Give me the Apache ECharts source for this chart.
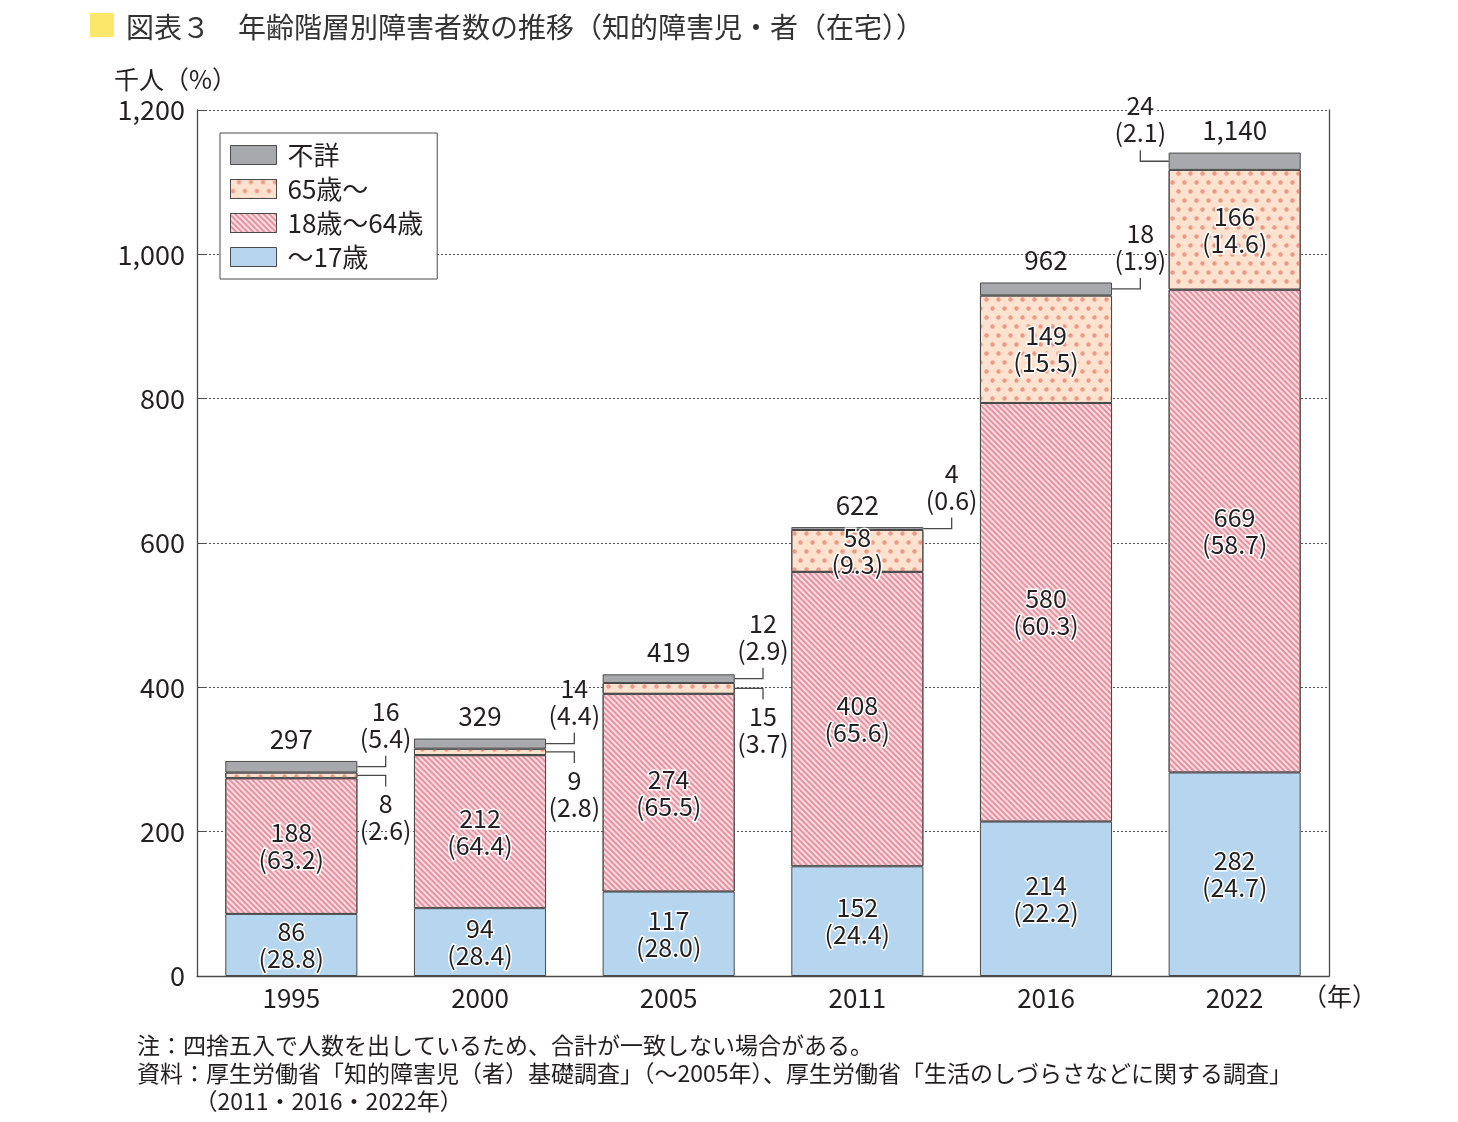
<!DOCTYPE html>
<html>
<head>
<meta charset="utf-8">
<script src="https://cdn.jsdelivr.net/npm/echarts@6/dist/echarts.min.js"></script>
<style>
  html, body { margin: 0; padding: 0; background: #fff; }
  #chart { width: 1458px; height: 1122px; }
</style>
</head>
<body>
<div id="chart"></div>
<script>
    // values (thousand persons, % share)
    var years = ['1995', '2000', '2005', '2011', '2016', '2022'];
    var age0to17 = [86, 94, 117, 152, 214, 282];
    var pct0to17 = ['28.8', '28.4', '28.0', '24.4', '22.2', '24.7'];
    var age18to64 = [188, 212, 274, 408, 580, 669];
    var pct18to64 = ['63.2', '64.4', '65.5', '65.6', '60.3', '58.7'];
    var age65plus = [8, 9, 15, 58, 149, 166];
    var pct65plus = ['2.6', '2.8', '3.7', '9.3', '15.5', '14.6'];
    var unknown = [16, 14, 12, 4, 18, 24];
    var pctUnknown = ['5.4', '4.4', '2.9', '0.6', '1.9', '2.1'];
    var totals = [297, 329, 419, 622, 962, 1140];

    var FONT = '"Noto Sans CJK JP", "Noto Sans", sans-serif';
    var TXT = '#231f20';
    var EDGE = '#4a4a4a';
    var BAR_RATIO = 0.7;

    var chart = echarts.init(document.getElementById('chart'), null, {renderer: 'canvas'});

    function inLabel(pcts) {
        return {
            show: true,
            position: 'inside',
            color: TXT,
            fontSize: 25,
            fontFamily: FONT,
            lineHeight: 27,
            textBorderColor: '#fff',
            textBorderWidth: 3,
            formatter: function (p) { return p.value + '\n(' + pcts[p.dataIndex] + ')'; }
        };
    }

    // callout items: [category, y of leader, value text, pct text, side, dir]
    var callouts = [];
    for (var i = 0; i < years.length; i++) {
        var base = age0to17[i] + age18to64[i];
        if (age65plus[i] < 50) {
            callouts.push([i, base + age65plus[i] / 2, String(age65plus[i]), '(' + pct65plus[i] + ')', 1, 1]);
        }
        var side = (i === years.length - 1) ? -1 : 1;
        callouts.push([i, base + age65plus[i] + unknown[i] / 2, String(unknown[i]), '(' + pctUnknown[i] + ')', side, -1]);
    }

    function renderCallout(params, api) {
        var c = api.coord([api.value(0), api.value(1)]);
        var bw = api.size([1, 0])[0];
        var side = api.value(4), dir = api.value(5);
        var x0 = c[0] + side * bw * BAR_RATIO / 2;
        var x1 = c[0] + side * bw / 2;
        var y0 = c[1];
        var y1 = y0 + dir * 11;
        var txt = callouts[params.dataIndex][2] + '\n' + callouts[params.dataIndex][3];
        return {
            type: 'group',
            children: [{
                type: 'polyline',
                shape: {points: [[x0, y0], [x1, y0], [x1, y1]]},
                style: {stroke: EDGE, lineWidth: 1.3, fill: null}
            }, {
                type: 'text',
                x: x1,
                y: dir < 0 ? y1 - 4 : y1 + 4,
                style: {
                    text: txt,
                    fill: TXT,
                    fontSize: 25,
                    fontFamily: FONT,
                    lineHeight: 27,
                    align: 'center',
                    verticalAlign: dir < 0 ? 'bottom' : 'top',
                    stroke: '#fff',
                    lineWidth: 3
                }
            }]
        };
    }

    var option = {
        animation: false,
        backgroundColor: '#fff',
        title: {
            text: '図表３　年齢階層別障害者数の推移（知的障害児・者（在宅））',
            left: 121,
            top: 8,
            textStyle: {fontSize: 28, fontWeight: 'normal', color: '#333', fontFamily: FONT}
        },
        legend: {
            orient: 'vertical',
            left: 220,
            top: 133,
            data: ['不詳', '65歳～', '18歳～64歳', '～17歳'],
            icon: 'rect',
            itemWidth: 46,
            itemHeight: 19,
            itemGap: 8,
            padding: [9, 14, 9, 10],
            backgroundColor: '#fff',
            borderColor: EDGE,
            borderWidth: 1,
            itemStyle: {borderColor: EDGE, borderWidth: 1},
            textStyle: {fontSize: 26, lineHeight: 26, color: TXT, fontFamily: FONT, padding: [0, 0, 0, 6]}
        },
        grid: {left: 197, right: 129, top: 110, bottom: 146},
        xAxis: {
            type: 'category',
            data: years,
            axisLine: {lineStyle: {color: EDGE, width: 1.3}},
            axisTick: {inside: true, length: 8, lineStyle: {color: EDGE}},
            axisLabel: {fontSize: 26, color: TXT, fontFamily: FONT, margin: 9}
        },
        yAxis: [{
            type: 'value',
            min: 0,
            max: 1200,
            interval: 200,
            axisLine: {show: true, lineStyle: {color: EDGE, width: 1.3}},
            axisTick: {show: true, inside: true, length: 8, lineStyle: {color: EDGE}},
            axisLabel: {
                fontSize: 27, color: TXT, fontFamily: FONT, margin: 12,
                formatter: function (v) { return v.toLocaleString('en-US'); }
            },
            splitLine: {lineStyle: {color: '#555', type: [2, 2], width: 1}}
        }, {
            type: 'value',
            position: 'right',
            min: 0,
            max: 1200,
            interval: 200,
            axisLine: {show: true, lineStyle: {color: EDGE, width: 1.3}},
            axisTick: {show: false},
            axisLabel: {show: false},
            splitLine: {show: false}
        }],
        series: [{
            name: '～17歳',
            type: 'bar',
            stack: 'total',
            barWidth: '70%',
            data: age0to17,
            itemStyle: {color: '#b5d6ee', borderColor: EDGE, borderWidth: 1},
            label: inLabel(pct0to17)
        }, {
            name: '18歳～64歳',
            type: 'bar',
            stack: 'total',
            data: age18to64,
            itemStyle: {
                color: '#fadde2', borderColor: EDGE, borderWidth: 1,
                decal: {
                    symbol: 'rect', symbolSize: 1, color: '#e8929f',
                    dashArrayX: [1, 0], dashArrayY: [1.8, 1.8], rotation: Math.PI / 4
                }
            },
            label: inLabel(pct18to64)
        }, {
            name: '65歳～',
            type: 'bar',
            stack: 'total',
            data: age65plus.map(function (v) { return {value: v, label: {show: v >= 50}}; }),
            itemStyle: {
                color: '#fde2d0', borderColor: EDGE, borderWidth: 1,
                decal: {
                    symbol: 'circle', symbolSize: 0.9, color: '#eb9a88',
                    dashArrayX: [[5, 7], [0, 6, 5, 1]], dashArrayY: [5, 4]
                }
            },
            label: inLabel(pct65plus)
        }, {
            name: '不詳',
            type: 'bar',
            stack: 'total',
            data: unknown,
            itemStyle: {color: '#a8a9ac', borderColor: EDGE, borderWidth: 1},
            label: {
                show: true,
                position: 'top',
                distance: 9,
                color: TXT,
                fontSize: 26,
                fontFamily: FONT,
                formatter: function (p) { return totals[p.dataIndex].toLocaleString('en-US'); }
            }
        }, {
            type: 'custom',
            renderItem: renderCallout,
            data: callouts,
            clip: false,
            z: 5
        }],
        graphic: [
            {type: 'rect', left: 90, top: 13, shape: {width: 24, height: 24}, style: {fill: '#fde76a'}},
            {type: 'text', left: 114, top: 67, style: {text: '千人（%）', fontSize: 25, fill: TXT, fontFamily: FONT}},
            {type: 'text', left: 1302, top: 984, style: {text: '（年）', fontSize: 25, fill: TXT, fontFamily: FONT}},
            {type: 'text', left: 137, top: 1031, style: {
                text: '注：四捨五入で人数を出しているため、合計が一致しない場合がある。\n資料：厚生労働省「知的障害児（者）基礎調査」（～2005年）、厚生労働省「生活のしづらさなどに関する調査」\n　　　（2011・2016・2022年）',
                fontSize: 23, lineHeight: 28, fill: TXT, fontFamily: FONT}}
        ]
    };

    chart.setOption(option);
</script>
</body>
</html>
